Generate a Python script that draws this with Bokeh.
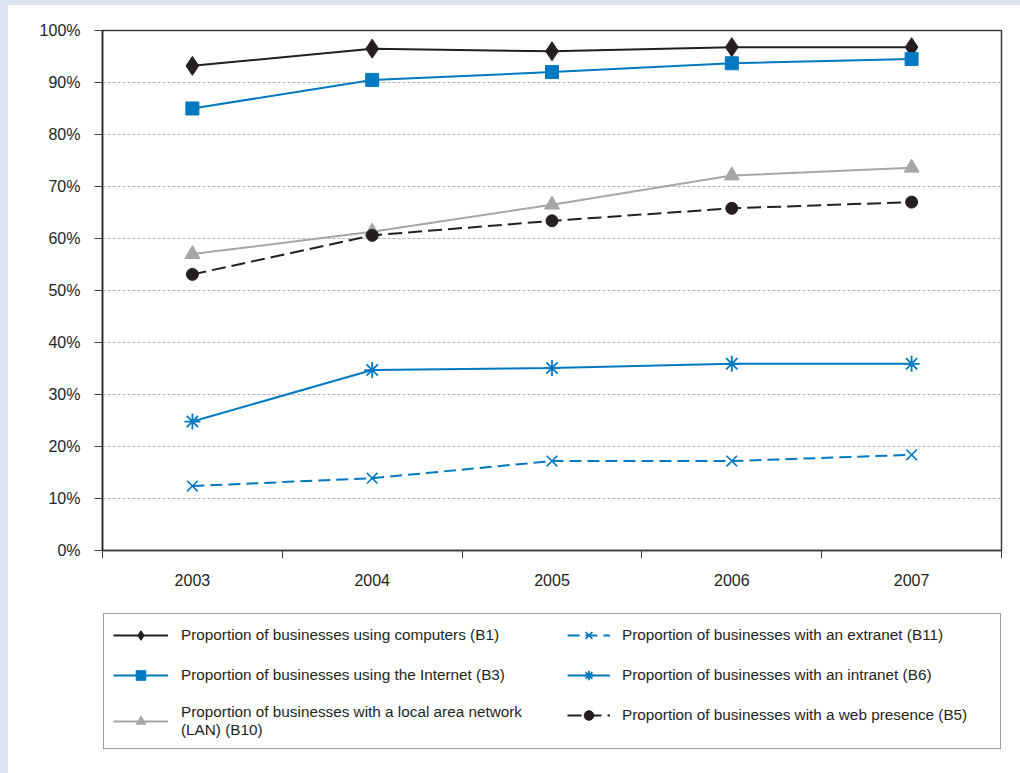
from bokeh.plotting import figure
from bokeh.layouts import column, row
from bokeh.models import FixedTicker, Legend, LegendItem, Range1d, ColumnDataSource, Spacer
from bokeh.embed import file_html
from bokeh.resources import INLINE

# ---- data ----
years = ["2003", "2004", "2005", "2006", "2007"]
computers = [93.2, 96.5, 96.0, 96.8, 96.8]
internet = [85.0, 90.5, 92.0, 93.7, 94.5]
lan = [57.0, 61.3, 66.5, 72.1, 73.6]
web = [53.1, 60.6, 63.4, 65.8, 67.0]
intranet = [24.8, 34.7, 35.1, 35.9, 35.9]
extranet = [12.4, 13.9, 17.2, 17.2, 18.4]
y_ticks = [0, 10, 20, 30, 40, 50, 60, 70, 80, 90, 100]
y_labels = ["0%", "10%", "20%", "30%", "40%", "50%", "60%", "70%", "80%", "90%", "100%"]
labels = [
    "Proportion of businesses using computers (B1)",
    "Proportion of businesses using the Internet (B3)",
    "Proportion of businesses with a local area network\n(LAN) (B10)",
    "Proportion of businesses with an extranet (B11)",
    "Proportion of businesses with an intranet (B6)",
    "Proportion of businesses with a web presence (B5)",
]

BLACK = "#231f20"
BLUE = "#0079c1"
GRAY = "#a6a6a8"
AXIS = "#3c3c3c"
PAGE_BG = "#dce6f2"
TICK_FONT = "'Liberation Sans', Arial, sans-serif"
LEG_FONT = "'Liberation Sans', Arial, sans-serif"

xs = [i + 0.5 for i in range(len(years))]
bounds = list(range(len(years) + 1))

src = ColumnDataSource(dict(x=xs, computers=computers, internet=internet, lan=lan,
                            extranet=extranet, intranet=intranet, web=web))

# (column, color, dash, marker, size, marker line width, filled)
series = [
    ("computers", BLACK, "solid", "diamond", 19, 1, True),
    ("internet", BLUE, "solid", "square", 13, 1, True),
    ("lan", GRAY, "solid", "triangle", 15, 1, True),
    ("extranet", BLUE, "12 6", "x", 15, 1.6, False),
    ("intranet", BLUE, "solid", "asterisk", 16, 1.8, False),
    ("web", BLACK, "14 6", "circle", 12, 1, True),
]

p = figure(width=1012, height=590, output_backend="svg", toolbar_location=None,
           x_range=Range1d(0, len(years)), y_range=Range1d(0, 100),
           min_border_left=94, min_border_right=19, min_border_top=25, min_border_bottom=45)
p.background_fill_color = "white"
p.border_fill_color = "white"
p.outline_line_color = AXIS
p.outline_line_width = 1.5

# grid
p.xgrid.visible = False
p.ygrid.ticker = FixedTicker(ticks=y_ticks)
p.ygrid.grid_line_color = "#b4b4b4"
p.ygrid.grid_line_dash = "3 2"
p.ygrid.grid_line_width = 1

# y axis
ya = p.yaxis[0]
ya.ticker = FixedTicker(ticks=y_ticks)
ya.major_label_overrides = {t: l for t, l in zip(y_ticks, y_labels)}
ya.major_tick_out = 8
ya.major_tick_in = 0
ya.minor_tick_out = 0
ya.minor_tick_in = 0
ya.major_tick_line_color = AXIS
ya.axis_line_color = BLACK
ya.axis_line_width = 1.5
ya.major_label_standoff = 14
ya.major_label_text_font = TICK_FONT
ya.major_label_text_font_size = "16px"
ya.major_label_text_color = BLACK

# x axis
xa = p.xaxis[0]
xa.ticker = FixedTicker(ticks=xs, minor_ticks=bounds)
xa.major_label_overrides = {x: y for x, y in zip(xs, years)}
xa.major_tick_out = 0
xa.major_tick_in = 0
xa.minor_tick_out = 8
xa.minor_tick_in = 0
xa.minor_tick_line_color = AXIS
xa.axis_line_color = AXIS
xa.axis_line_width = 1.5
xa.major_label_standoff = 15
xa.major_label_text_font = TICK_FONT
xa.major_label_text_font_size = "16px"
xa.major_label_text_color = BLACK

# legend panel figure
q = figure(width=1012, height=178, output_backend="svg", toolbar_location=None,
           x_range=Range1d(0, len(years)), y_range=Range1d(0, 100),
           x_axis_type=None, y_axis_type=None,
           min_border_left=0, min_border_right=0, min_border_top=0, min_border_bottom=0)
q.outline_line_color = None
q.background_fill_color = "white"
q.border_fill_color = "white"
q.xgrid.visible = False
q.ygrid.visible = False


def add(fig, col, color, dash, mk, sz, mlw, filled, visible=True):
    rl = fig.line("x", col, source=src, line_color=color, line_width=2, line_dash=dash, visible=visible)
    if filled:
        rm = fig.scatter("x", col, source=src, marker=mk, size=sz, color=color, visible=visible)
    else:
        rm = fig.scatter("x", col, source=src, marker=mk, size=sz, line_color=color,
                         line_width=mlw, visible=visible)
    return rl, rm


items = []
for (col, color, dash, mk, sz, mlw, filled), lab in zip(series, labels):
    add(p, col, color, dash, mk, sz, mlw, filled)
    ql, qm = add(q, col, color, dash, mk, sz, mlw, filled, visible=False)
    items.append(LegendItem(label=lab, renderers=[ql, qm]))


def style(leg):
    leg.label_text_font = LEG_FONT
    leg.label_text_font_size = "15.3px"
    leg.label_text_color = BLACK
    leg.glyph_height = 24
    leg.label_height = 24
    leg.spacing = 16
    leg.padding = 9
    leg.margin = 0
    leg.click_policy = "none"


leg1 = Legend(items=items[:3], location=(1, 24))
style(leg1)
leg1.glyph_width = 55
leg1.label_standoff = 13
leg1.label_width = 810
leg1.border_line_color = AXIS
leg1.border_line_width = 1.5
leg1.background_fill_color = "white"
leg1.background_fill_alpha = 1

leg2 = Legend(items=items[3:], location=(456, 37))
style(leg2)
leg2.glyph_width = 43
leg2.label_standoff = 12
leg2.border_line_alpha = 0
leg2.background_fill_alpha = 0

q.add_layout(leg1, "center")
q.add_layout(leg2, "center")

left_band = Spacer(width=8, height=773, styles={"background-color": PAGE_BG})
top_band = Spacer(width=1012, height=5, styles={"background-color": PAGE_BG})
layout = row(left_band, column(top_band, p, q, spacing=0), spacing=0)
open("out.html", "w").write(file_html(layout, INLINE))
